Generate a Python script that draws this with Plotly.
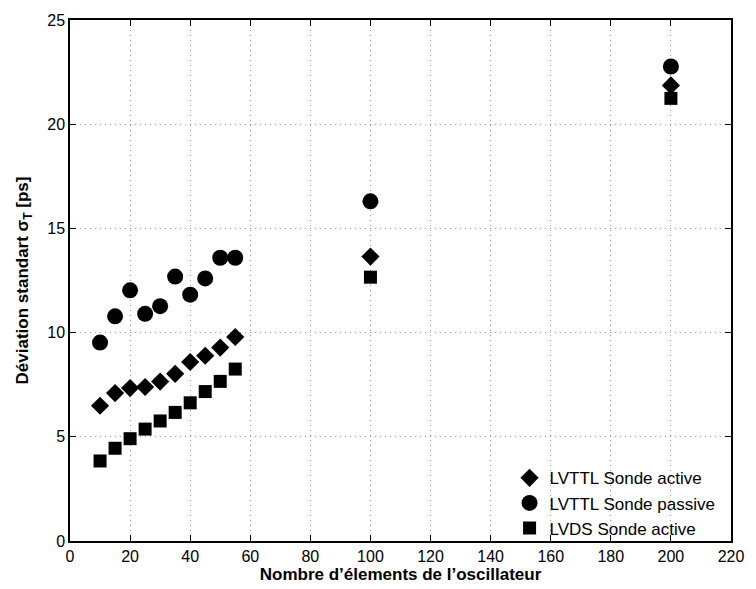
import plotly.graph_objects as go

x_vals = [10, 15, 20, 25, 30, 35, 40, 45, 50, 55, 100, 200]
lvttl_active = [6.49, 7.10, 7.34, 7.39, 7.65, 8.02, 8.59, 8.89, 9.28, 9.79, 13.65, 21.86]
lvttl_passive = [9.52, 10.78, 12.03, 10.90, 11.27, 12.69, 11.82, 12.60, 13.59, 13.59, 16.30, 22.77]
lvds_active = [3.84, 4.45, 4.91, 5.37, 5.76, 6.17, 6.63, 7.17, 7.66, 8.25, 12.66, 21.24]

series_names = ["LVTTL Sonde active", "LVTTL Sonde passive", "LVDS Sonde active"]

x_ticks = list(range(0, 221, 20))
y_ticks = [0, 5, 10, 15, 20, 25]

FONT = "Liberation Sans, Arial, Helvetica"

fig = go.Figure()
fig.add_trace(go.Scatter(x=x_vals, y=lvttl_active, mode="markers", name=series_names[0],
                         marker=dict(symbol="diamond", size=14, color="black")))
fig.add_trace(go.Scatter(x=x_vals, y=lvttl_passive, mode="markers", name=series_names[1],
                         marker=dict(symbol="circle", size=16, color="black")))
fig.add_trace(go.Scatter(x=x_vals, y=lvds_active, mode="markers", name=series_names[2],
                         marker=dict(symbol="square", size=13, color="black")))

axis_common = dict(
    showline=True, linecolor="black", linewidth=1.5, mirror="ticks",
    ticks="inside", ticklen=6, tickcolor="black", tickwidth=1,
    showgrid=True, gridcolor="#999999", griddash="1px,4px", gridwidth=1,
    zeroline=False,
    tickfont=dict(family=FONT, size=16, color="black"),
)

fig.update_xaxes(range=[0, 220], tickvals=x_ticks,
                 title=dict(text="<b>Nombre d’élements de l’oscillateur</b>",
                            font=dict(family=FONT, size=17, color="black"),
                            standoff=0),
                 **axis_common)
fig.update_yaxes(range=[0, 25], tickvals=y_ticks,
                 title=dict(text="<b>Déviation standart σ<sub>T</sub> [ps]</b>",
                            font=dict(family=FONT, size=17, color="black"),
                            standoff=14),
                 **axis_common)

fig.update_layout(
    width=756, height=589,
    margin=dict(l=70, r=15, t=18, b=43),
    plot_bgcolor="white", paper_bgcolor="white",
    showlegend=True,
    legend=dict(x=0.665, y=0.155, xanchor="left", yanchor="top",
                bgcolor="rgba(0,0,0,0)",
                font=dict(family=FONT, size=17, color="black"),
                itemsizing="trace", tracegroupgap=0),
)

fig.write_html(
    "out.html",
    config={"displayModeBar": False},
    post_script=(
        "document.body.style.margin='0';"
        "document.body.style.overflow='hidden';"
        "document.documentElement.style.overflow='hidden';"
    ),
)
